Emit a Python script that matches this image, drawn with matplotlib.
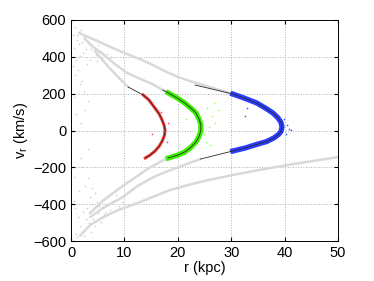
import numpy as np
import matplotlib.pyplot as plt

plt.rcParams['font.family'] = ['Liberation Sans', 'DejaVu Sans']

# gray tracks (r in kpc, v_r in km/s)
track_a_r = [1.5, 3, 5, 7.5, 10, 12.5, 15, 17.5, 20, 22.5, 25, 27.5, 30.3]
track_a_v = [530, 510, 485, 452, 421, 392, 360, 323, 291, 266, 245, 222, 198]
track_b_r = [2.5, 4.1, 6, 8, 10.5, 12.8, 14.8, 16.2, 17.2, 18.2]
track_b_v = [500, 454, 415, 365, 312, 282, 258, 236, 220, 204]
track_c_r = [4.5, 5.4, 7.0, 8.8, 10.7]
track_c_v = [430, 400, 345, 291, 236]
track_d_r = [3.5, 6, 9.7, 12, 14.5, 16.7, 18.2]
track_d_v = [-450, -380, -300, -255, -205, -170, -149]
track_e_r = [3.6, 6, 9.7, 12.5, 15.4, 18, 20, 22, 24.2]
track_e_v = [-470, -420, -361, -300, -253, -222, -200, -178, -155]
track_f_r = [1.7, 3.5, 6, 9, 12.4, 15.5, 18.5, 22, 25.7, 30, 35, 42, 50]
track_f_v = [-570, -515, -470, -430, -394, -358, -323, -295, -269, -243, -215, -180, -144]

# scattered gray cloud
cloud_r = [0.8, 1.2, 1.9, 2.6, 3.3, 0.5, 1.4, 2.2, 3.8, 4.6, 5.5, 6.3, 1.0, 2.9,
           0.7, 1.6, 2.4, 3.1, 0.9, 1.8, 2.7, 0.6, 1.3, 2.0, 1.1, 2.1, 3.6, 4.3,
           5.0, 6.8, 7.4, 0.4, 1.7, 2.8, 3.5, 0.3, 4.9, 5.9,
           0.9, 1.7, 2.5, 3.4, 4.2, 5.1, 6.0, 7.2, 1.3, 2.2, 3.0, 3.9, 4.8, 5.9,
           0.6, 1.5, 2.6, 3.5, 4.4, 7.8, 8.5, 2.0, 3.2, 4.0, 5.3, 6.6, 7.0, 8.9,
           9.6, 1.1, 2.4, 3.7, 4.5, 5.6, 6.2, 0.5, 1.9, 3.1, 2.8, 0.8]
cloud_v = [560, 520, 545, 505, 470, 450, 470, 420, 440, 410, 430, 400, 380, 360,
           300, 250, 210, 160, 90, 40, 110, 180, 330, 270, 490, 480, 500, 455,
           465, 415, 400, 520, 405, 440, 380, 350, 375, 385,
           -560, -520, -540, -500, -480, -450, -470, -430, -470, -440, -420, -400, -390, -420,
           -380, -330, -300, -360, -340, -380, -350, -200, -260, -310, -410, -440, -400, -410,
           -390, -580, -575, -550, -520, -495, -455, -250, -150, -100, -480, -420]

# model orbits (black) and particle streams
red_r = [13.5, 14.6, 15.7, 16.5, 17.0, 17.4, 17.6, 17.5, 17.1, 16.5, 15.7, 14.8, 13.9]
red_v = [193, 165, 122, 90, 60, 30, 3, -25, -55, -85, -112, -133, -149]
red_top_r = [10.7, 13.5]
red_top_v = [236, 193]
red_pts_r = [18.2, 16.9, 15.2, 17.9]
red_pts_v = [40, 100, -20, -60]

green_r = [18.2, 19.8, 21.3, 22.5, 23.4, 24.0, 24.3, 24.3, 24.0, 23.4, 22.3, 21.2, 20.0, 18.2]
green_v = [204, 178, 149, 120, 95, 60, 30, 0, -30, -62, -95, -118, -133, -149]
green_top_r = [17.2, 18.2]
green_top_v = [220, 204]
green_pts_r = [25.5, 26.3, 25.8, 27.0, 24.8, 26.8, 21.5, 25.2, 27.6, 26.0]
green_pts_v = [120, 80, 20, 40, -20, 150, 60, -60, 110, -80]

blue_r = [30.3, 32.6, 34.8, 36.5, 37.8, 38.7, 39.3, 39.5, 39.3, 38.9, 38.0, 36.6, 34.8, 32.6, 30.3]
blue_v = [198, 174, 149, 120, 95, 70, 45, 19, -5, -20, -40, -60, -75, -95, -111]
blue_top_r = [23.2, 30.3]
blue_top_v = [247, 198]
blue_bot_r = [30.3, 24.2]
blue_bot_v = [-111, -155]
blue_pts_r = [40.4, 40.8, 40.2, 33.0, 39.8, 41.2, 32.5]
blue_pts_v = [30, 10, -20, 120, 60, 5, 80]

fig = plt.figure(figsize=(3.74, 2.81), dpi=100)
ax = fig.add_axes([0.190, 0.142, 0.714, 0.787])

gray = '#d9d9d9'
ax.scatter(cloud_r, cloud_v, s=1.5, color='#d0d0d0', lw=0)
for r, v in [(track_a_r, track_a_v), (track_b_r, track_b_v), (track_c_r, track_c_v),
             (track_d_r, track_d_v), (track_e_r, track_e_v), (track_f_r, track_f_v)]:
    ax.plot(r, v, color=gray, lw=1.8, solid_capstyle='round', solid_joinstyle='round')

ax.scatter(red_pts_r, red_pts_v, s=1.5, color='#ff5050', lw=0)
ax.scatter(green_pts_r, green_pts_v, s=1.5, color='#99ff66', lw=0)
ax.scatter(blue_pts_r, blue_pts_v, s=1.5, color='#4060ff', lw=0)
ax.plot(red_r, red_v, color='#ff3838', lw=2.2, solid_joinstyle='round')
ax.plot(green_r, green_v, color='#3cf000', lw=3.8, solid_joinstyle='round')
ax.plot(blue_r, blue_v, color='#2a3cff', lw=3.8, solid_joinstyle='round')

line_kw = dict(color='#2a2a2a', lw=0.6)
ax.plot(red_top_r + red_r[1:], red_top_v + red_v[1:], **line_kw)
ax.plot(green_top_r + green_r[1:], green_top_v + green_v[1:], **line_kw)
ax.plot(blue_top_r + blue_r[1:] + blue_bot_r[1:], blue_top_v + blue_v[1:] + blue_bot_v[1:], **line_kw)

ax.set_xlim(0, 50)
ax.set_ylim(-600, 600)
ax.set_xticks([0, 10, 20, 30, 40, 50])
ax.set_yticks([-600, -400, -200, 0, 200, 400, 600])
ax.set_yticklabels(['\u2212600', '\u2212400', '\u2212200', '0', '200', '400', '600'])
ax.grid(True, linestyle=':', color='#b0b0b0', lw=0.7)
ax.tick_params(direction='in', top=True, right=True, labelsize=10.5, length=3)
ax.set_xlabel('r (kpc)', fontsize=10.5, labelpad=1)
ax.set_ylabel('v$_\\mathregular{r}$ (km/s)', fontsize=10.5, labelpad=2)
for s in ax.spines.values():
    s.set_linewidth(0.7)

fig.savefig('out.png', dpi=100)
